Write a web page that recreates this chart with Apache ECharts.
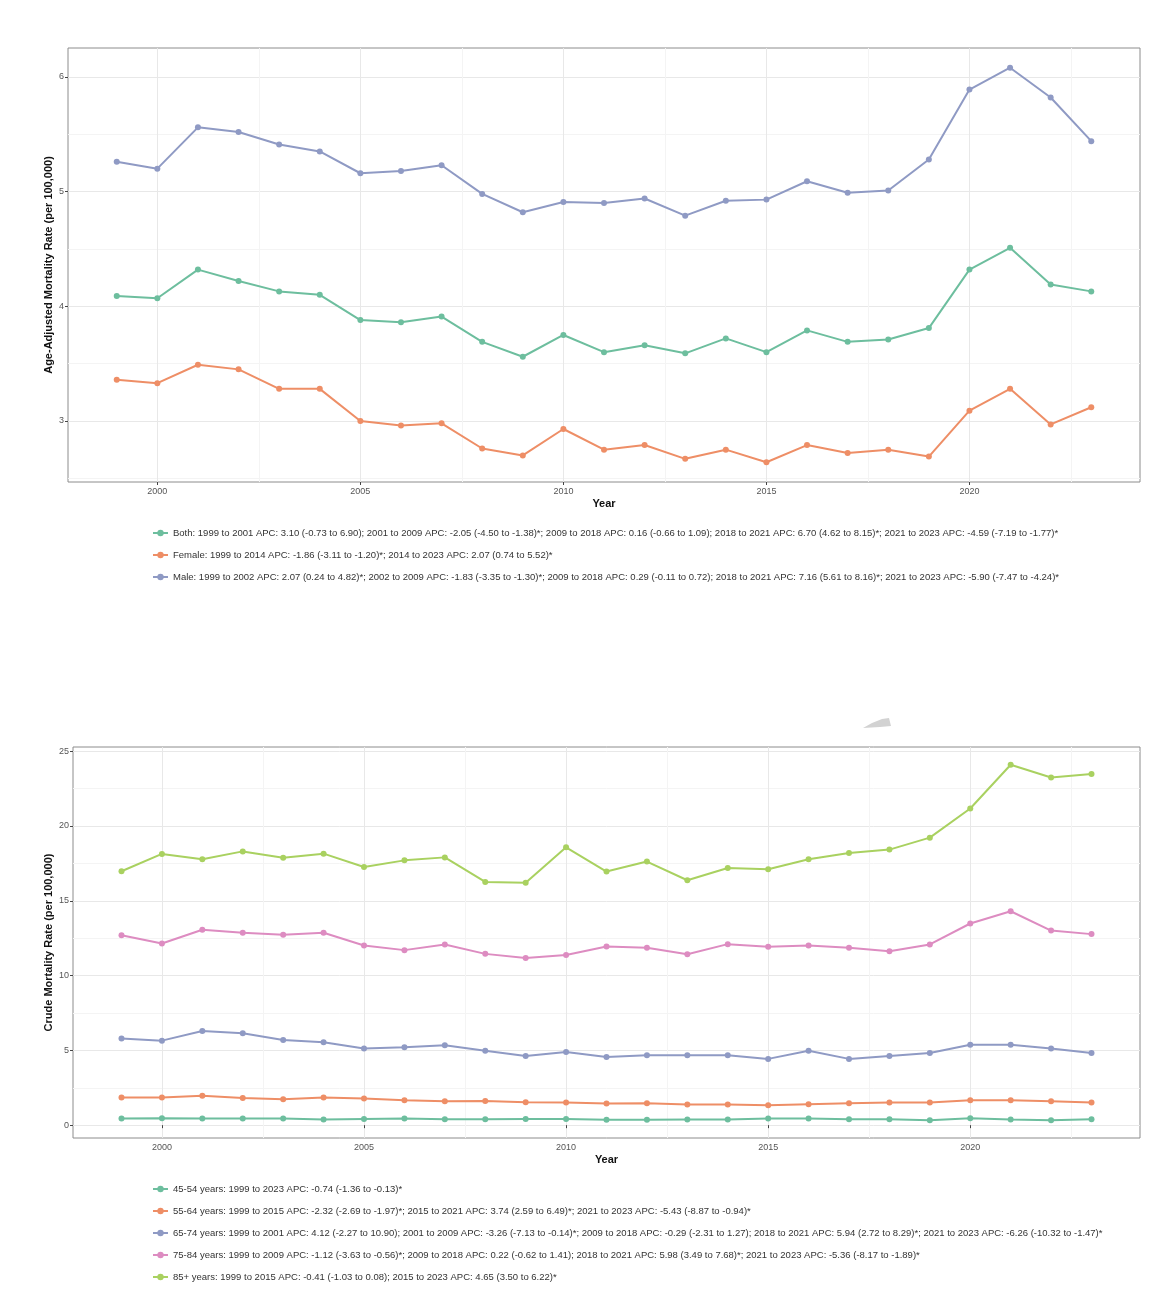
<!DOCTYPE html>
<html>
<head>
<meta charset="utf-8">
<script src="https://cdn.jsdelivr.net/npm/echarts@6/dist/echarts.min.js"></script>
<style>
html,body{margin:0;padding:0;background:#fff;}
#chart{width:1172px;height:1312px;}
</style>
</head>
<body>
<div id="chart"></div>
<script>
// ---------- data ----------
const years = [1999,2000,2001,2002,2003,2004,2005,2006,2007,2008,2009,2010,2011,2012,2013,2014,2015,2016,2017,2018,2019,2020,2021,2022,2023];

const bothRate   = [4.09,4.07,4.32,4.22,4.13,4.10,3.88,3.86,3.91,3.69,3.56,3.75,3.60,3.66,3.59,3.72,3.60,3.79,3.69,3.71,3.81,4.32,4.51,4.19,4.13];
const femaleRate = [3.36,3.33,3.49,3.45,3.28,3.28,3.00,2.96,2.98,2.76,2.70,2.93,2.75,2.79,2.67,2.75,2.64,2.79,2.72,2.75,2.69,3.09,3.28,2.97,3.12];
const maleRate   = [5.26,5.20,5.56,5.52,5.41,5.35,5.16,5.18,5.23,4.98,4.82,4.91,4.90,4.94,4.79,4.92,4.93,5.09,4.99,5.01,5.28,5.89,6.08,5.82,5.44];

const age4554 = [0.44,0.47,0.44,0.44,0.44,0.38,0.42,0.44,0.40,0.40,0.42,0.42,0.36,0.36,0.38,0.38,0.44,0.44,0.40,0.40,0.33,0.47,0.38,0.33,0.40];
const age5564 = [1.85,1.85,1.96,1.82,1.73,1.85,1.78,1.67,1.60,1.62,1.53,1.51,1.45,1.47,1.38,1.38,1.33,1.40,1.47,1.51,1.51,1.67,1.67,1.60,1.51];
const age6574 = [5.80,5.65,6.29,6.14,5.69,5.54,5.12,5.20,5.34,4.98,4.63,4.89,4.56,4.67,4.67,4.67,4.43,4.98,4.43,4.63,4.83,5.38,5.38,5.12,4.83];
const age7584 = [12.70,12.14,13.06,12.86,12.72,12.86,12.01,11.70,12.08,11.45,11.17,11.37,11.94,11.86,11.43,12.10,11.92,12.01,11.86,11.63,12.08,13.48,14.30,13.01,12.77];
const age85   = [16.97,18.13,17.77,18.30,17.88,18.15,17.26,17.70,17.90,16.26,16.21,18.57,16.95,17.62,16.37,17.19,17.10,17.77,18.19,18.42,19.22,21.17,24.09,23.24,23.47];

const sexLabels = [
  "Both: 1999 to 2001 APC: 3.10 (-0.73 to 6.90); 2001 to 2009 APC: -2.05 (-4.50 to -1.38)*; 2009 to 2018 APC: 0.16 (-0.66 to 1.09); 2018 to 2021 APC: 6.70 (4.62 to 8.15)*; 2021 to 2023 APC: -4.59 (-7.19 to -1.77)*",
  "Female: 1999 to 2014 APC: -1.86 (-3.11 to -1.20)*; 2014 to 2023 APC: 2.07 (0.74 to 5.52)*",
  "Male: 1999 to 2002 APC: 2.07 (0.24 to 4.82)*; 2002 to 2009 APC: -1.83 (-3.35 to -1.30)*; 2009 to 2018 APC: 0.29 (-0.11 to 0.72); 2018 to 2021 APC: 7.16 (5.61 to 8.16)*; 2021 to 2023 APC: -5.90 (-7.47 to -4.24)*"
];
const ageLabels = [
  "45-54 years: 1999 to 2023 APC: -0.74 (-1.36 to -0.13)*",
  "55-64 years: 1999 to 2015 APC: -2.32 (-2.69 to -1.97)*; 2015 to 2021 APC: 3.74 (2.59 to 6.49)*; 2021 to 2023 APC: -5.43 (-8.87 to -0.94)*",
  "65-74 years: 1999 to 2001 APC: 4.12 (-2.27 to 10.90); 2001 to 2009 APC: -3.26 (-7.13 to -0.14)*; 2009 to 2018 APC: -0.29 (-2.31 to 1.27); 2018 to 2021 APC: 5.94 (2.72 to 8.29)*; 2021 to 2023 APC: -6.26 (-10.32 to -1.47)*",
  "75-84 years: 1999 to 2009 APC: -1.12 (-3.63 to -0.56)*; 2009 to 2018 APC: 0.22 (-0.62 to 1.41); 2018 to 2021 APC: 5.98 (3.49 to 7.68)*; 2021 to 2023 APC: -5.36 (-8.17 to -1.89)*",
  "85+ years: 1999 to 2015 APC: -0.41 (-1.03 to 0.08); 2015 to 2023 APC: 4.65 (3.50 to 6.22)*"
];

const xTicks = [2000,2005,2010,2015,2020];
const xMinorTicks = [2002.5,2007.5,2012.5,2017.5,2022.5];
const topYTicks = [3,4,5,6];
const topYMinor = [2.5,3.5,4.5,5.5];
const botYTicks = [0,5,10,15,20,25];
const botYMinor = [2.5,7.5,12.5,17.5,22.5];

const topTitle = "Age-Adjusted Mortality Rate (per 100,000)";
const botTitle = "Crude Mortality Rate (per 100,000)";
const xTitle = "Year";

// ---------- styling ----------
const colors = ['#6DBE9E','#EE8E66','#8F9AC4','#DD8CC1','#A9D160'];
const FONT = '"Liberation Sans", Arial, sans-serif';

function expand(arrs){
  let mn = Infinity, mx = -Infinity;
  arrs.forEach(a => a.forEach(v => { if (v < mn) mn = v; if (v > mx) mx = v; }));
  const pad = (mx - mn) * 0.05;
  return [mn - pad, mx + pad];
}
const xr = expand([years]);
const topR = expand([bothRate, femaleRate, maleRate]);
const botR = expand([age4554, age5564, age6574, age7584, age85]);

function mainX(gridIndex){
  return {
    type:'value', gridIndex, min:xr[0], max:xr[1],
    name:xTitle, nameLocation:'middle', nameGap:16, nameMoveOverlap:false,
    nameTextStyle:{fontFamily:FONT, fontWeight:'bold', fontSize:11, color:'#111'},
    axisLine:{show:false},
    axisTick:{show:true, length:3, customValues:xTicks, lineStyle:{color:'#444'}},
    axisLabel:{customValues:xTicks, formatter:v=>String(v), fontFamily:FONT, fontSize:9, color:'#555', margin:5},
    splitLine:{show:true, lineStyle:{color:'#e8e8e8', width:1}}
  };
}
function minorX(gridIndex){
  return {
    type:'value', gridIndex, min:xr[0], max:xr[1], position:'top',
    axisLine:{show:false}, axisLabel:{show:false},
    axisTick:{show:false, customValues:xMinorTicks},
    splitLine:{show:true, lineStyle:{color:'#f4f4f4', width:1}}
  };
}
function mainY(gridIndex, r, ticks, title, gap){
  return {
    type:'value', gridIndex, min:r[0], max:r[1],
    name:title, nameLocation:'middle', nameGap:gap, nameMoveOverlap:false,
    nameTextStyle:{fontFamily:FONT, fontWeight:'bold', fontSize:11, color:'#111'},
    axisLine:{show:false},
    axisTick:{show:true, length:3, customValues:ticks, lineStyle:{color:'#444'}},
    axisLabel:{customValues:ticks, formatter:v=>String(v), fontFamily:FONT, fontSize:9, color:'#555', margin:4},
    splitLine:{show:true, lineStyle:{color:'#e8e8e8', width:1}}
  };
}
function minorY(gridIndex, r, ticks){
  return {
    type:'value', gridIndex, min:r[0], max:r[1], position:'right',
    axisLine:{show:false}, axisLabel:{show:false},
    axisTick:{show:false, customValues:ticks},
    splitLine:{show:true, lineStyle:{color:'#f4f4f4', width:1}}
  };
}
function lineSeries(name, data, color, xi, yi){
  return {
    type:'line', name, xAxisIndex:xi, yAxisIndex:yi,
    data: years.map((y,i)=>[y, data[i]]),
    symbol:'circle', symbolSize:6, showSymbol:true,
    lineStyle:{width:2, color}, itemStyle:{color},
    emphasis:{disabled:true}, animation:false, z:5
  };
}

const legendCommon = {
  orient:'vertical', left:152, itemWidth:15, itemHeight:8, itemGap:10, padding:0,
  selectedMode:false,
  textStyle:{fontFamily:FONT, fontSize:9.5, color:'#333', lineHeight:12}
};

const option = {
  animation:false,
  backgroundColor:'#fff',
  grid:[
    {left:68, right:32, top:48, height:434, show:true, borderColor:'#8c8c8c', borderWidth:1, backgroundColor:'transparent'},
    {left:73, right:32, top:747, height:391, show:true, borderColor:'#8c8c8c', borderWidth:1, backgroundColor:'transparent'}
  ],
  xAxis:[ mainX(0), minorX(0), mainX(1), minorX(1) ],
  yAxis:[
    mainY(0, topR, topYTicks, topTitle, 14), minorY(0, topR, topYMinor),
    mainY(1, botR, botYTicks, botTitle, 19), minorY(1, botR, botYMinor)
  ],
  legend:[
    Object.assign({}, legendCommon, {top:527, data:sexLabels}),
    Object.assign({}, legendCommon, {top:1183, data:ageLabels})
  ],
  series:[
    lineSeries(sexLabels[0], bothRate,   colors[0], 0, 0),
    lineSeries(sexLabels[1], femaleRate, colors[1], 0, 0),
    lineSeries(sexLabels[2], maleRate,   colors[2], 0, 0),
    lineSeries(ageLabels[0], age4554, colors[0], 2, 2),
    lineSeries(ageLabels[1], age5564, colors[1], 2, 2),
    lineSeries(ageLabels[2], age6574, colors[2], 2, 2),
    lineSeries(ageLabels[3], age7584, colors[3], 2, 2),
    lineSeries(ageLabels[4], age85,   colors[4], 2, 2)
  ],
  graphic:[
    {type:'polygon', shape:{points:[[863,728],[872,723],[882,719],[889,718],[891,726],[880,727]]},
     style:{fill:'#d2d2d2'}, silent:true}
  ]
};

const chart = echarts.init(document.getElementById('chart'), null, {renderer:'canvas'});
chart.setOption(option);
</script>
</body>
</html>
